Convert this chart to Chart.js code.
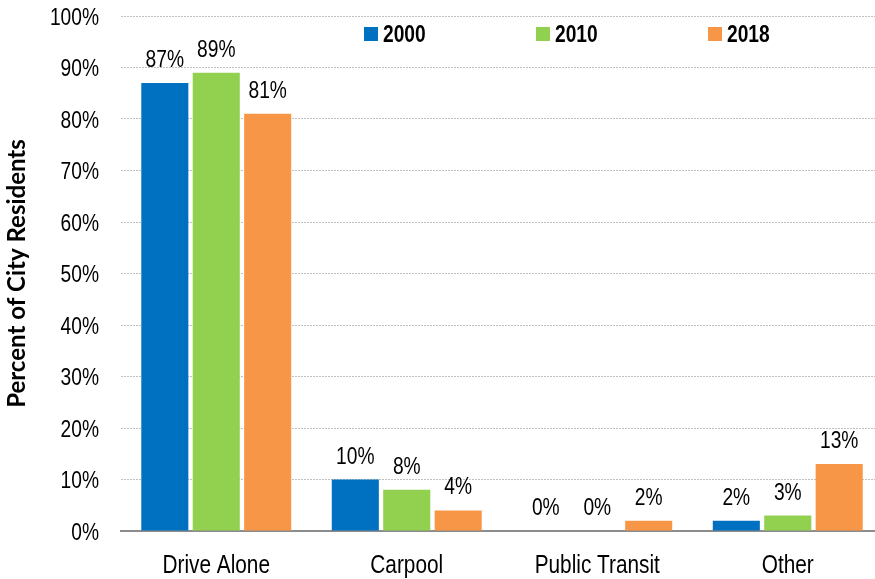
<!DOCTYPE html>
<html>
<head>
<meta charset="utf-8">
<script src="https://cdn.jsdelivr.net/npm/chart.js@4.4.1/dist/chart.umd.min.js"></script>
<style>
  html, body { margin: 0; padding: 0; background: #fff; overflow: hidden; }
  #wrap { width: 884px; height: 579px; position: relative; }
</style>
</head>
<body>
<div id="wrap"><canvas id="mode_chart"></canvas></div>
<script>
var categories = ["Drive Alone", "Carpool", "Public Transit", "Other"];
var years = ["2000", "2010", "2018"];
var values_2000 = [87, 10, 0, 2];
var values_2010 = [89, 8, 0, 3];
var values_2018 = [81, 4, 2, 13];
var bar_colors = ["#0070C0", "#92D050", "#F79646"];
var y_ticks_max = 100;
var y_ticks_step = 10;

// no narrow font installed, so squeeze Liberation Sans like Arial Narrow
var sans = "'Liberation Sans', Arial, sans-serif";
var squeeze = 0.8;

var narrowText = function (ctx, text, x, y, align) {
    ctx.save();
    ctx.translate(x, y);
    ctx.scale(squeeze, 1);
    ctx.textAlign = align;
    ctx.textBaseline = "alphabetic";
    ctx.fillText(text, 0, 0);
    ctx.restore();
};

// tick labels, value labels and legend all drawn here
var narrowLabels = {
    id: 'narrowLabels',
    afterDraw: function (chart) {
        var ctx = chart.ctx;
        var xs = chart.scales.x, ys = chart.scales.y;
        ctx.save();
        ctx.fillStyle = "#000";

        ctx.font = "24px " + sans;
        ys.ticks.forEach(function (t, i) {
            narrowText(ctx, t.value + "%", xs.left - 22, ys.getPixelForTick(i) + 8.5, "right");
        });

        chart.data.datasets.forEach(function (ds, i) {
            chart.getDatasetMeta(i).data.forEach(function (bar, j) {
                narrowText(ctx, ds.data[j] + "%", bar.x, bar.y - 16, "center");
            });
        });

        ctx.font = "26px " + sans;
        chart.data.labels.forEach(function (lab, i) {
            narrowText(ctx, lab, xs.getPixelForTick(i), ys.bottom + 42, "center");
        });

        ctx.font = "bold 24px " + sans;
        chart.data.datasets.forEach(function (ds, i) {
            var x = 364 + i * 172;
            ctx.fillStyle = ds.backgroundColor;
            ctx.fillRect(x, 27, 14, 14);
            ctx.fillStyle = "#000";
            narrowText(ctx, ds.label, x + 19, 42, "left");
        });
        ctx.restore();
    }
};

var ctx_mode = document.getElementById("mode_chart");
var mode_chart = new Chart(ctx_mode, {
    type: 'bar',
    data: {
        labels: categories,
        datasets: [
            { label: years[0], data: values_2000, backgroundColor: bar_colors[0] },
            { label: years[1], data: values_2010, backgroundColor: bar_colors[1] },
            { label: years[2], data: values_2018, backgroundColor: bar_colors[2] }
        ]
    },
    options: {
        responsive: true,
        maintainAspectRatio: false,
        animation: false,
        categoryPercentage: 0.81,
        barPercentage: 0.915,
        layout: { padding: { top: 16, right: 1, left: 0, bottom: 0 } },
        plugins: {
            legend: { display: false },
            tooltip: { enabled: false }
        },
        scales: {
            x: {
                grid: { display: false },
                border: { display: true, color: "#8c8c8c", width: 2 },
                ticks: { display: false },
                afterFit: function (scale) { scale.height = 48; }
            },
            y: {
                min: 0,
                max: y_ticks_max,
                ticks: { display: false, stepSize: y_ticks_step },
                grid: { color: "#c0c0c0", drawTicks: false, lineWidth: 1 },
                border: { display: false, dash: [2, 1] },
                title: {
                    display: true,
                    text: "Percent of City Residents",
                    color: "#000",
                    font: { family: "Lato, sans-serif", size: 24, weight: 'bold' },
                    padding: { top: 3, bottom: 0 }
                },
                afterFit: function (scale) { scale.width = 121; }
            }
        }
    },
    plugins: [narrowLabels]
});
</script>
</body>
</html>
